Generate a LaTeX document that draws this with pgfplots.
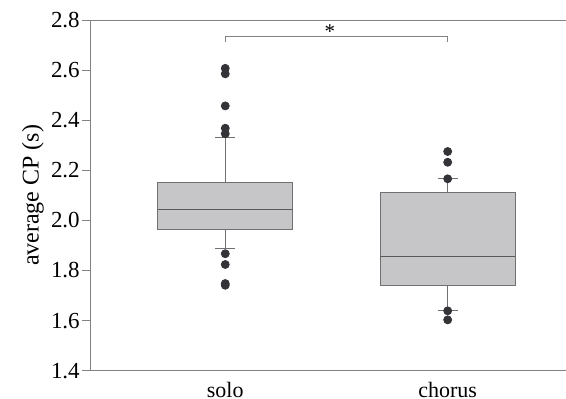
\documentclass[border=0pt]{standalone}
\usepackage{pgfplots}
\pgfplotsset{compat=1.18}
\usepgfplotslibrary{statistics}
\usepackage{fontspec}
\setmainfont{Liberation Serif}
\definecolor{boxfill}{RGB}{198,198,200}
\definecolor{boxline}{RGB}{112,112,114}
\definecolor{axline}{RGB}{130,130,130}
\definecolor{dotc}{RGB}{52,52,56}
\begin{document}
\begin{tikzpicture}
\begin{axis}[
  name=ax,
  scale only axis,
  width=475pt, height=351pt,
  xmin=0.396, xmax=2.530,
  ymin=1.4, ymax=2.8,
  axis lines*=left,
  axis line style={axline, line width=0.9pt},
  ytick={1.4,1.6,...,2.8},
  yticklabel style={/pgf/number format/fixed,/pgf/number format/precision=1,/pgf/number format/fixed zerofill, inner sep=2pt},
  /pgf/number format/assume math mode=true,
  xtick={1,2},
  xticklabels={solo,chorus},
  major x tick style={draw=none},
  tick align=outside,
  major tick length=9pt,
  ytick style={axline, line width=0.8pt},
  tick label style={font=\fontsize{23}{26}\selectfont},
  ylabel={average CP (s)},
  ylabel style={font=\fontsize{24}{27}\selectfont, at={(rel axis cs:0,0.5)}, yshift=58pt, anchor=center},
  xticklabel style={font=\fontsize{22}{25}\selectfont, inner sep=0pt, anchor=base, yshift=-18pt},
  clip=false,
  boxplot/draw direction=y,
  boxplot/box extend=0.607,
  boxplot/whisker extend=0.09,
]
\addplot+[boxplot prepared={draw position=1, lower whisker=1.888, lower quartile=1.965, median=2.045, upper quartile=2.150, upper whisker=2.332},
  fill=boxfill, draw=boxline, line width=0.8pt, solid,
  mark=*, mark size=4pt, mark options={fill=dotc, draw=dotc},
  boxplot/every median/.style={draw=boxline!80!black, line width=0.9pt}]
  table[row sep=\\, y index=0] {2.607\\ 2.585\\ 2.457\\ 2.368\\ 2.346\\ 1.867\\ 1.824\\ 1.748\\ 1.741\\};
\addplot+[boxplot prepared={draw position=2, lower whisker=1.639, lower quartile=1.742, median=1.855, upper quartile=2.111, upper whisker=2.166},
  fill=boxfill, draw=boxline, line width=0.8pt, solid,
  mark=*, mark size=4pt, mark options={fill=dotc, draw=dotc},
  boxplot/every median/.style={draw=boxline!80!black, line width=0.9pt}]
  table[row sep=\\, y index=0] {2.275\\ 2.232\\ 2.166\\ 1.639\\ 1.603\\};
\addplot[axline, line width=0.8pt, mark=none] coordinates {(1,2.713) (1,2.733) (2,2.733) (2,2.713)};
\node[font=\fontsize{21}{24}\selectfont] at (axis cs:1.47,2.752) {*};
\end{axis}
\draw[axline, line width=0.9pt] (ax.north west) -- (ax.north east);
\path ([xshift=-91pt,yshift=-28pt]ax.south west) rectangle ([yshift=20pt]ax.north east);
\end{tikzpicture}
\end{document}
